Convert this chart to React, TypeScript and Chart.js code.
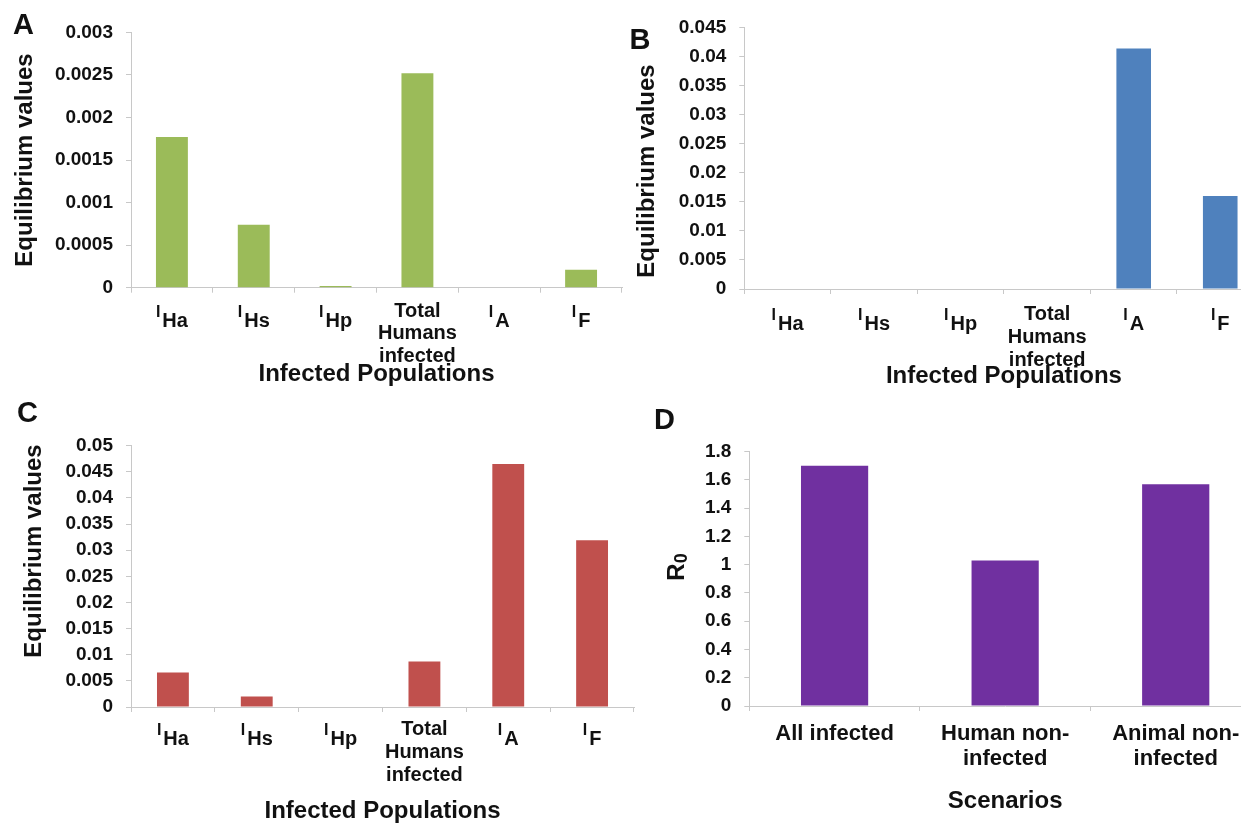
import React, { useEffect, useRef } from "react";
import { Chart, registerables } from "chart.js";

Chart.register(...registerables);

const FONT_FAMILY = '"Liberation Sans", Arial, Helvetica, sans-serif';
const TEXT_COLOR = "#111111";
const AXIS_COLOR = "#c8c8c8";
const TICK_MARK = 5;

type Category = { lines?: string[]; base?: string; sub?: string };

// ---------- data ----------
const populationCategories: Category[] = [
  { base: "I", sub: "Ha" },
  { base: "I", sub: "Hs" },
  { base: "I", sub: "Hp" },
  { lines: ["Total", "Humans", "infected"] },
  { base: "I", sub: "A" },
  { base: "I", sub: "F" },
];
const scenarioCategories: Category[] = [
  { lines: ["All infected"] },
  { lines: ["Human non-", "infected"] },
  { lines: ["Animal non-", "infected"] },
];

const panelAValues = [0.00177, 0.00074, 0.00002, 0.00252, 0, 0.00021];
const panelBValues = [0, 0, 0, 0, 0.0414, 0.016];
const panelCValues = [0.0066, 0.002, 0, 0.0087, 0.0465, 0.0319];
const r0Values = [1.7, 1.03, 1.57];

const panelATicks = [0, 0.0005, 0.001, 0.0015, 0.002, 0.0025, 0.003];
const panelBTicks = [0, 0.005, 0.01, 0.015, 0.02, 0.025, 0.03, 0.035, 0.04, 0.045];
const panelCTicks = [0, 0.005, 0.01, 0.015, 0.02, 0.025, 0.03, 0.035, 0.04, 0.045, 0.05];
const r0Ticks = [0, 0.2, 0.4, 0.6, 0.8, 1, 1.2, 1.4, 1.6, 1.8];

const equilibriumTitle = "Equilibrium values";
const populationsTitle = "Infected Populations";
const scenariosTitle = "Scenarios";

// ---------- layout / style ----------
type TitlePart = { text: string; size: number; shift: number };
type PanelSpec = {
  key: string;
  letter: string;
  categories: Category[];
  values: number[];
  tickValues: number[];
  color: string;
  xTitle: string;
  yTitleParts: TitlePart[];
  canvas: { left: number; top: number; width: number; height: number };
  area: { left: number; top: number; right: number; bottom: number };
  letterPos: { x: number; y: number };
  yTitlePos: { x: number; y: number };
  xTickFont: number;
  xTickPad: number;
  xTitlePad: number;
  barPercentage: number;
};

const eqTitleParts: TitlePart[] = [{ text: equilibriumTitle, size: 24, shift: 0 }];
const r0TitleParts: TitlePart[] = [
  { text: "R", size: 24, shift: 0 },
  { text: "0", size: 18, shift: 5 },
];

const panels: PanelSpec[] = [
  {
    key: "A",
    letter: "A",
    categories: populationCategories,
    values: panelAValues,
    tickValues: panelATicks,
    color: "#9bbb59",
    xTitle: populationsTitle,
    yTitleParts: eqTitleParts,
    canvas: { left: 0, top: 0, width: 640, height: 405 },
    area: { left: 131, top: 32.3, right: 622, bottom: 287.7 },
    letterPos: { x: 13, y: 34 },
    yTitlePos: { x: 25, y: 160 },
    xTickFont: 20,
    xTickPad: 7,
    xTitlePad: 16,
    barPercentage: 0.39,
  },
  {
    key: "B",
    letter: "B",
    categories: populationCategories,
    values: panelBValues,
    tickValues: panelBTicks,
    color: "#4f81bd",
    xTitle: populationsTitle,
    yTitleParts: eqTitleParts,
    canvas: { left: 610, top: 0, width: 690, height: 405 },
    area: { left: 744.3, top: 27.7, right: 1263.5, bottom: 289 },
    letterPos: { x: 629.5, y: 49 },
    yTitlePos: { x: 647.5, y: 171 },
    xTickFont: 20,
    xTickPad: 9,
    xTitlePad: 14,
    barPercentage: 0.4,
  },
  {
    key: "C",
    letter: "C",
    categories: populationCategories,
    values: panelCValues,
    tickValues: panelCTicks,
    color: "#c0504d",
    xTitle: populationsTitle,
    yTitleParts: eqTitleParts,
    canvas: { left: 0, top: 395, width: 640, height: 435 },
    area: { left: 131, top: 445.7, right: 634, bottom: 707 },
    letterPos: { x: 17, y: 422 },
    yTitlePos: { x: 34, y: 551 },
    xTickFont: 20,
    xTickPad: 6,
    xTitlePad: 4.5,
    barPercentage: 0.38,
  },
  {
    key: "D",
    letter: "D",
    categories: scenarioCategories,
    values: r0Values,
    tickValues: r0Ticks,
    color: "#7030a0",
    xTitle: scenariosTitle,
    yTitleParts: r0TitleParts,
    canvas: { left: 640, top: 395, width: 660, height: 435 },
    area: { left: 749.3, top: 451.7, right: 1261, bottom: 706 },
    letterPos: { x: 654, y: 429 },
    yTitlePos: { x: 677.5, y: 567 },
    xTickFont: 22,
    xTickPad: 10.5,
    xTitlePad: 14.5,
    barPercentage: 0.394,
  },
];

const font = (size: number) => `bold ${size}px ${FONT_FAMILY}`;

function overlayPlugin(spec: PanelSpec) {
  return {
    id: "overlay" + spec.key,
    afterDraw(chart: any) {
      const ctx: CanvasRenderingContext2D = chart.ctx;
      const ox = spec.canvas.left;
      const oy = spec.canvas.top;
      ctx.save();
      ctx.fillStyle = TEXT_COLOR;

      // panel letter
      ctx.font = font(29);
      ctx.textAlign = "left";
      ctx.textBaseline = "alphabetic";
      ctx.fillText(spec.letter, spec.letterPos.x - ox, spec.letterPos.y - oy);

      // rotated y-axis title (supports subscript parts)
      const parts = spec.yTitleParts;
      let total = 0;
      const widths = parts.map((p) => {
        ctx.font = font(p.size);
        const w = ctx.measureText(p.text).width;
        total += w;
        return w;
      });
      ctx.save();
      ctx.translate(spec.yTitlePos.x - ox, spec.yTitlePos.y - oy);
      ctx.rotate(-Math.PI / 2);
      ctx.textBaseline = "middle";
      let cx = -total / 2;
      parts.forEach((p, i) => {
        ctx.font = font(p.size);
        ctx.fillText(p.text, cx, p.shift);
        cx += widths[i];
      });
      ctx.restore();

      // subscripted category labels
      const xs = chart.scales.x;
      const lineHeight = spec.xTickFont * 1.14;
      const firstBaseline = xs.top + TICK_MARK + spec.xTickPad + lineHeight / 2 + 0.35 * spec.xTickFont;
      ctx.textAlign = "left";
      ctx.textBaseline = "alphabetic";
      spec.categories.forEach((c, i) => {
        if (!c.sub) return;
        const px = xs.getPixelForTick(i);
        ctx.font = font(16);
        const wI = ctx.measureText(c.base || "").width;
        ctx.font = font(20);
        const wS = ctx.measureText(c.sub).width;
        const gap = 2;
        const x0 = px - (wI + gap + wS) / 2;
        ctx.font = font(16);
        ctx.fillText(c.base || "", x0, firstBaseline - 1.5);
        ctx.font = font(20);
        ctx.fillText(c.sub, x0 + wI + gap, firstBaseline + 8.5);
      });
      ctx.restore();
    },
  };
}

function buildConfig(spec: PanelSpec): any {
  const { canvas, area, categories, tickValues } = spec;
  return {
    type: "bar",
    data: {
      labels: categories.map((c) => (c.lines ? c.lines.join(" ") : (c.base || "") + (c.sub || ""))),
      datasets: [
        {
          data: spec.values,
          backgroundColor: spec.color,
          borderWidth: 0,
          barPercentage: spec.barPercentage,
          categoryPercentage: 1,
        },
      ],
    },
    options: {
      animation: false,
      responsive: false,
      events: [],
      layout: {
        padding: {
          left: 0,
          top: area.top - canvas.top,
          right: canvas.left + canvas.width - area.right,
          bottom: 0,
        },
      },
      plugins: {
        legend: { display: false },
        tooltip: { enabled: false },
        title: { display: false },
      },
      scales: {
        x: {
          type: "category",
          offset: true,
          grid: {
            display: true,
            drawOnChartArea: false,
            drawTicks: true,
            tickLength: TICK_MARK,
            color: AXIS_COLOR,
            offset: true,
          },
          border: { display: true, color: AXIS_COLOR, width: 1 },
          ticks: {
            color: TEXT_COLOR,
            font: { family: FONT_FAMILY, size: spec.xTickFont, weight: "bold", lineHeight: 1.14 },
            padding: spec.xTickPad,
            maxRotation: 0,
            minRotation: 0,
            autoSkip: false,
            callback: (_v: any, i: number) => {
              const c = categories[i];
              if (!c || !c.lines) return "";
              return c.lines.length === 1 ? c.lines[0] : c.lines;
            },
          },
          title: {
            display: true,
            text: spec.xTitle,
            color: TEXT_COLOR,
            font: { family: FONT_FAMILY, size: 24, weight: "bold", lineHeight: 1.2 },
            padding: { top: 0, bottom: spec.xTitlePad },
          },
          afterFit: (s: any) => {
            s.height = canvas.top + canvas.height - area.bottom;
          },
        },
        y: {
          min: tickValues[0],
          max: tickValues[tickValues.length - 1],
          afterBuildTicks: (s: any) => {
            s.ticks = tickValues.map((v) => ({ value: v }));
          },
          grid: {
            display: true,
            drawOnChartArea: false,
            drawTicks: true,
            tickLength: TICK_MARK,
            color: AXIS_COLOR,
          },
          border: { display: true, color: AXIS_COLOR, width: 1 },
          ticks: {
            color: TEXT_COLOR,
            font: { family: FONT_FAMILY, size: 19, weight: "bold" },
            padding: 13,
            callback: (v: any) => String(v),
          },
          title: { display: false },
          afterFit: (s: any) => {
            s.width = area.left - canvas.left;
          },
        },
      },
    },
    plugins: [overlayPlugin(spec)],
  };
}

function Panel({ spec }: { spec: PanelSpec }) {
  const ref = useRef<HTMLCanvasElement | null>(null);
  useEffect(() => {
    if (!ref.current) return;
    const chart = new Chart(ref.current, buildConfig(spec));
    return () => chart.destroy();
  }, [spec]);
  return (
    <canvas
      ref={ref}
      width={spec.canvas.width}
      height={spec.canvas.height}
      style={{
        position: "absolute",
        left: spec.canvas.left,
        top: spec.canvas.top,
        width: spec.canvas.width,
        height: spec.canvas.height,
      }}
    />
  );
}

export default function App() {
  return (
    <div
      style={{
        position: "absolute",
        left: 0,
        top: 0,
        width: 1241,
        height: 823,
        overflow: "hidden",
        background: "#ffffff",
      }}
    >
      {panels.map((p) => (
        <Panel key={p.key} spec={p} />
      ))}
    </div>
  );
}
